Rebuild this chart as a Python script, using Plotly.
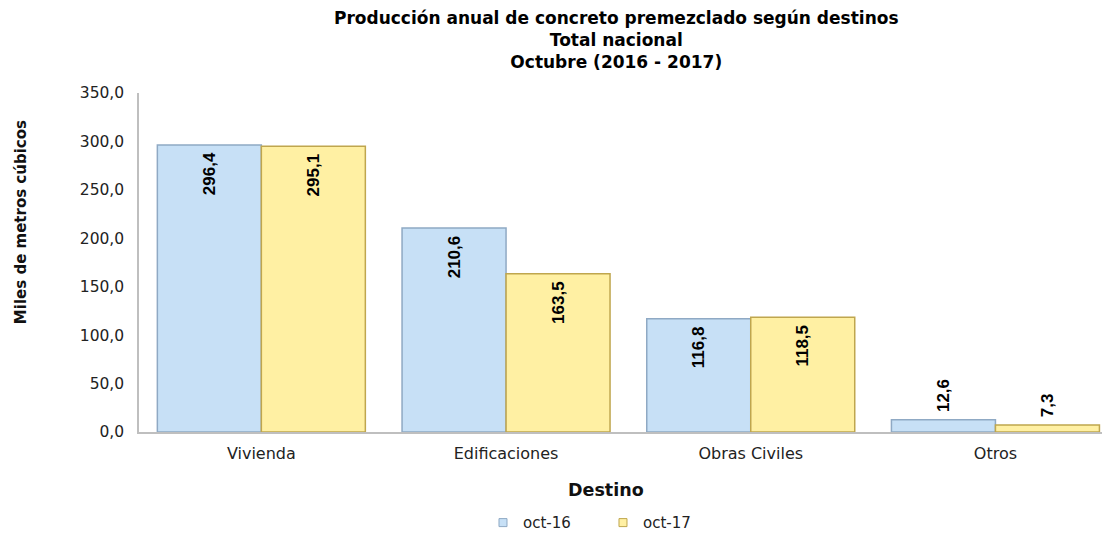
import plotly.graph_objects as go

categories = ["Vivienda", "Edificaciones", "Obras Civiles", "Otros"]
oct16 = [296.4, 210.6, 116.8, 12.6]
oct17 = [295.1, 163.5, 118.5, 7.3]
series_names = ["oct-16", "oct-17"]
tick_vals = [0, 50, 100, 150, 200, 250, 300, 350]

colors = ["#C7E0F6", "#FFF0A3"]
edges = ["#8FA9C4", "#BFA64E"]

label_font = dict(family="Liberation Sans Narrow, Arial Narrow, Liberation Sans, Arial", size=17, color="black")
base_font = "DejaVu Sans, Verdana, Arial"

def positions(vals):
    return ["inside" if v > 40 else "outside" for v in vals]

def templates(vals):
    return ["<b>%{y:.1f}</b>\u00a0" if v > 40 else "\u00a0<b>%{y:.1f}</b>" for v in vals]

fig = go.Figure()
for name, vals, c, e in zip(series_names, [oct16, oct17], colors, edges):
    fig.add_trace(go.Bar(
        x=categories, y=vals, name=name, showlegend=False,
        marker=dict(color=c, line=dict(color=e, width=1.5)),
        texttemplate=templates(vals), textposition=positions(vals),
        insidetextanchor="end", textangle=-90, constraintext="none",
        textfont=label_font, cliponaxis=False,
    ))
# legend entries with small square keys
for name, c, e in zip(series_names, colors, edges):
    fig.add_trace(go.Scatter(
        x=[None], y=[None], mode="markers", name=name,
        marker=dict(symbol="square", size=8, color=c, line=dict(color=e, width=1)),
    ))

fig.update_layout(
    width=1110, height=535,
    margin=dict(l=131, r=10, t=85, b=111, autoexpand=False),
    paper_bgcolor="white", plot_bgcolor="white",
    separators=",.",
    barmode="group", bargap=0.15, bargroupgap=0,
    font=dict(family=base_font, size=15, color="#222"),
    xaxis=dict(
        range=[-0.5, 3.46], automargin=False,
        showline=True, linecolor="#BFBFBF", linewidth=1.5,
        ticks="", tickfont=dict(size=16, color="#222"), ticklabelstandoff=6,
    ),
    yaxis=dict(
        range=[0, 350], tickvals=tick_vals, tickformat=".1f", automargin=False,
        showline=True, linecolor="#BFBFBF", linewidth=1.5,
        showgrid=False, zeroline=False, ticks="",
        tickfont=dict(size=15.5, color="#222"), ticklabelstandoff=10,
    ),
    legend=dict(
        orientation="h", x=0.355, xanchor="left", y=-0.268, yanchor="middle",
        font=dict(size=15, color="#222"), itemwidth=30,
        entrywidth=75, entrywidthmode="pixels",
    ),
    annotations=[
        dict(
            text="<b>Producción anual de concreto premezclado según destinos<br>Total nacional<br>Octubre (2016 - 2017)</b>",
            xref="paper", yref="paper", x=0.493, y=1.1563,
            xanchor="center", yanchor="middle", showarrow=False,
            font=dict(family=base_font, size=17, color="black"),
        ),
        dict(
            text="<b>Miles de metros cúbicos</b>", textangle=-90,
            xref="paper", yref="paper", x=-0.1218, y=0.619,
            xanchor="center", yanchor="middle", showarrow=False,
            font=dict(family=base_font, size=15, color="#111"),
        ),
        dict(
            text="<b>Destino</b>",
            xref="paper", yref="paper", x=0.4824, y=-0.171,
            xanchor="center", yanchor="middle", showarrow=False,
            font=dict(family=base_font, size=17.5, color="#111"),
        ),
    ],
)

fig.write_html("out.html")
